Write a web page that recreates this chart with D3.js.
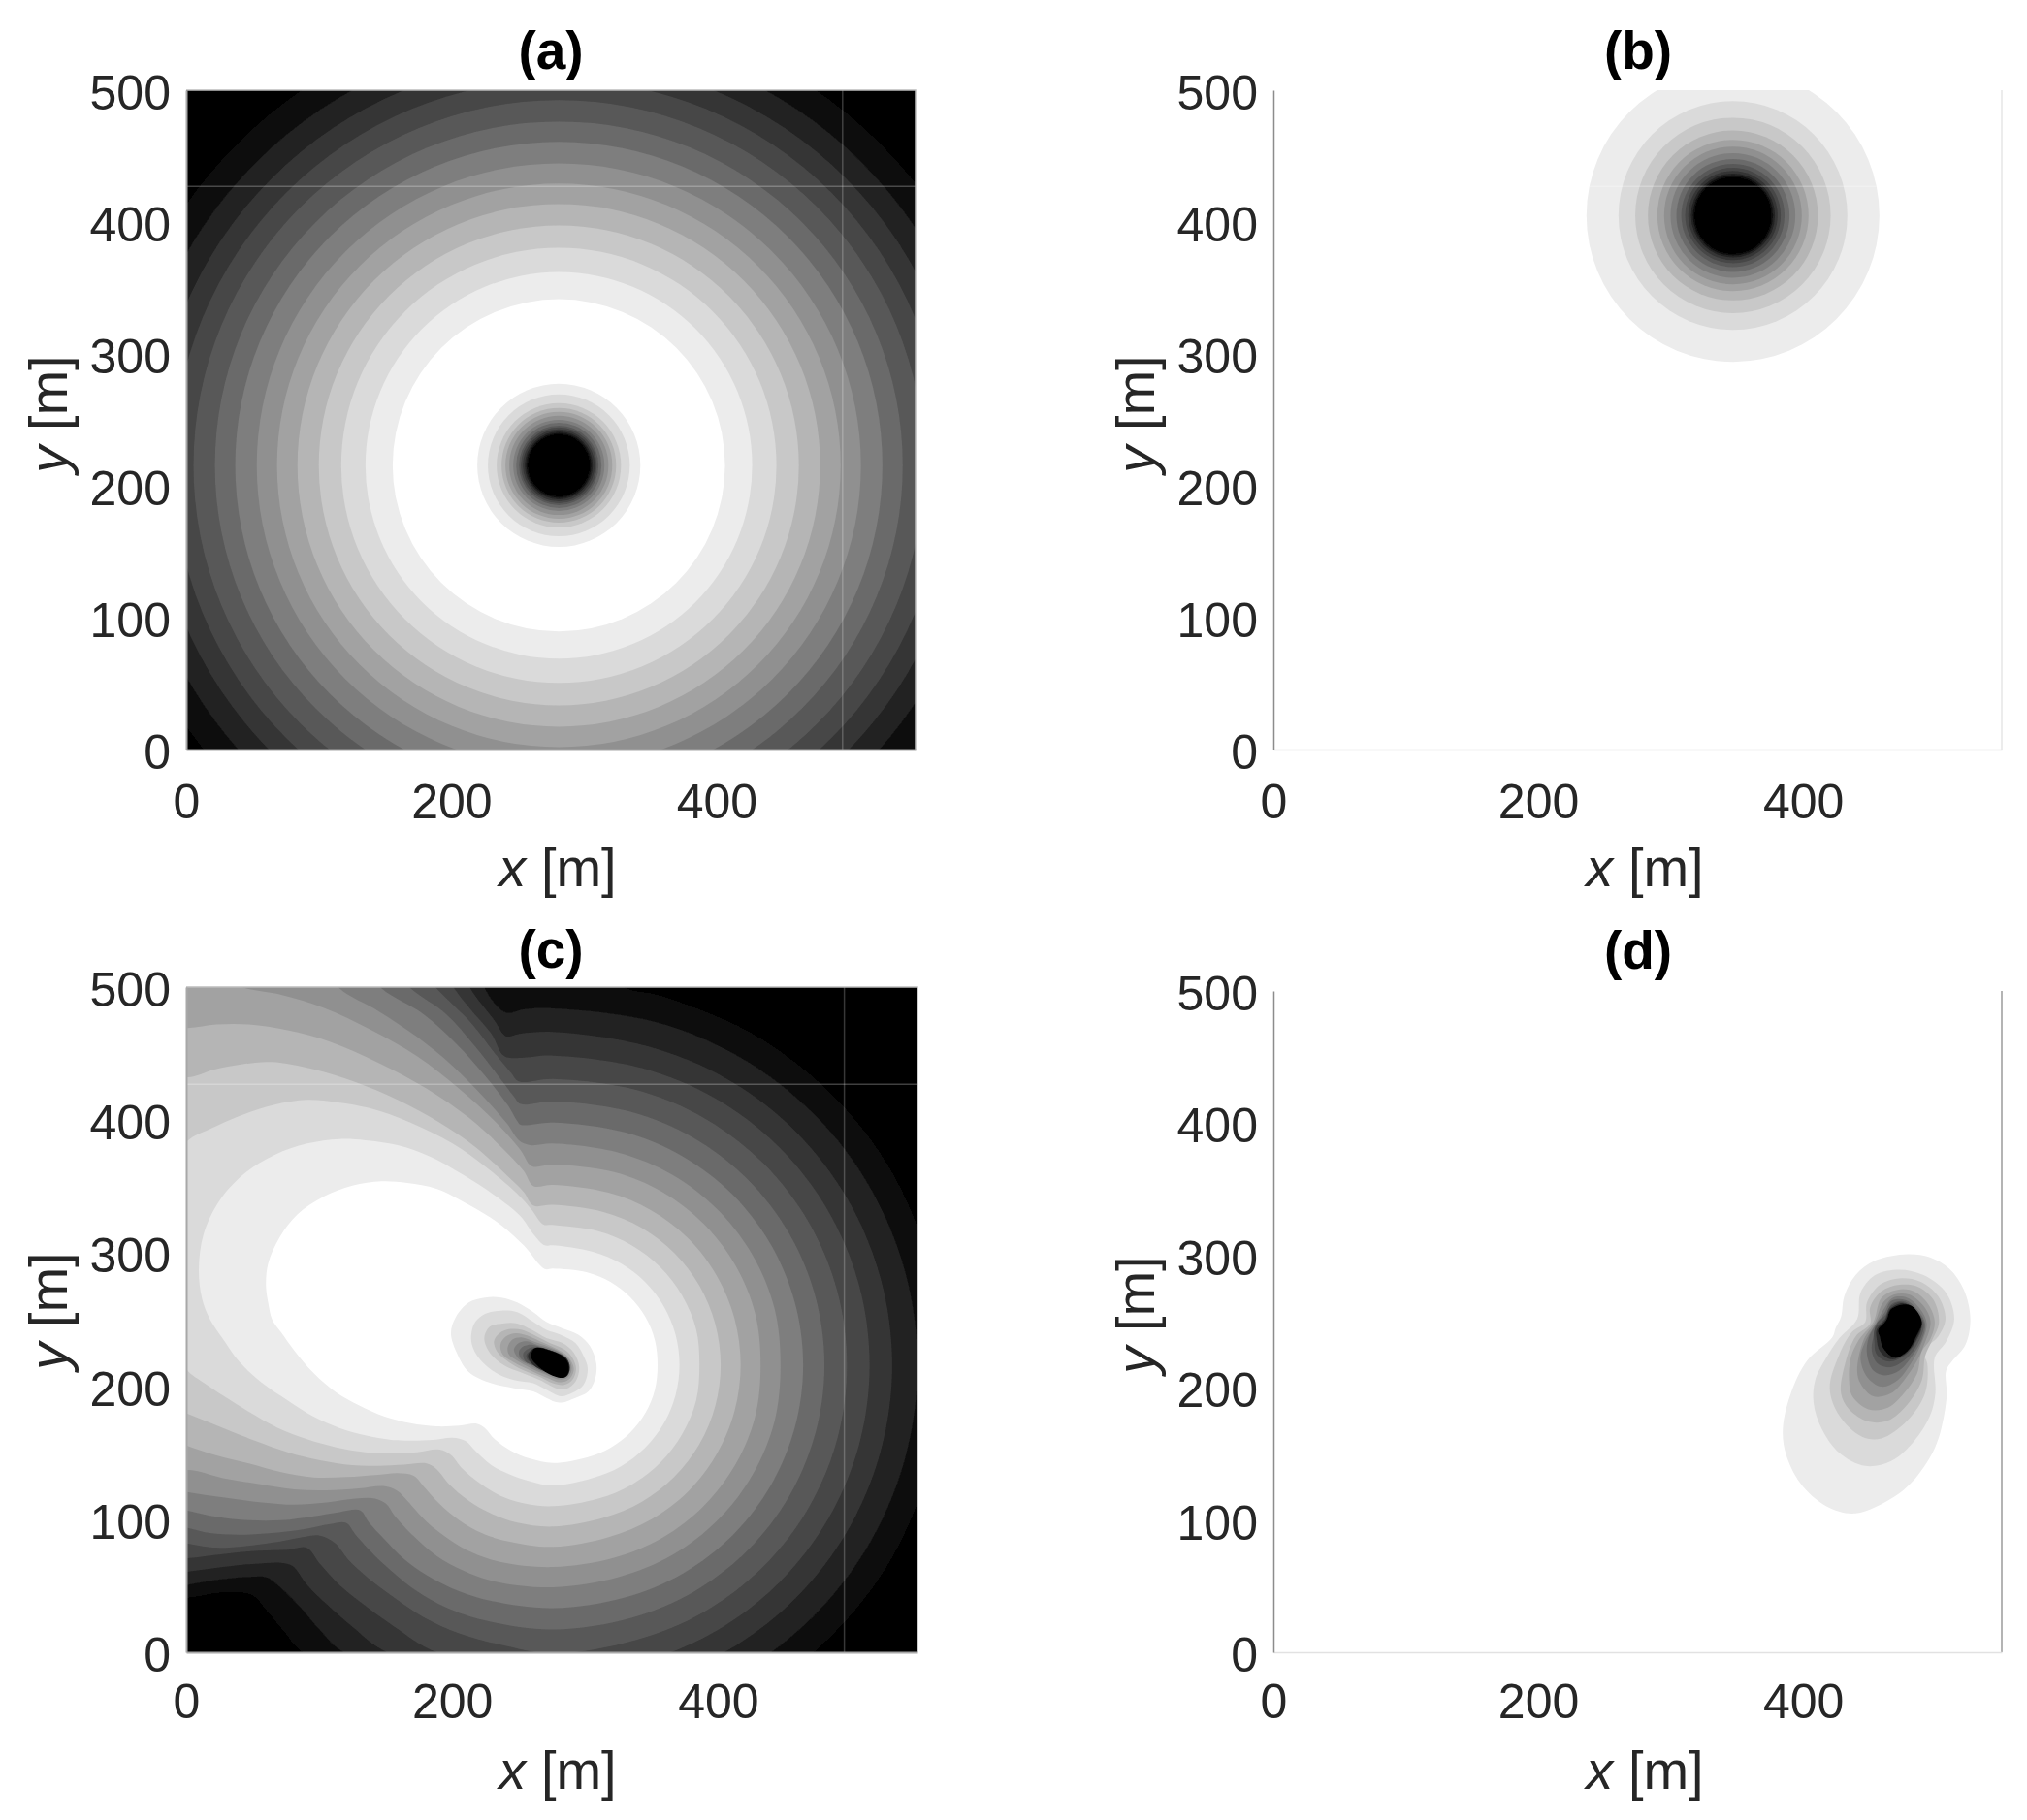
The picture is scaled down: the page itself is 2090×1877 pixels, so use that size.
<!DOCTYPE html>
<html>
<head>
<meta charset="utf-8">
<script src="https://cdn.jsdelivr.net/npm/d3@7"></script>
<style>
  html, body { margin: 0; padding: 0; background: #fff; }
  svg { display: block; font-family: "Liberation Sans", Arial, sans-serif; }
</style>
</head>
<body>
<svg id="chart"></svg>
<script>
// Gray steps of the contour fill, light to dark
const grays = ["#ffffff", "#ececec", "#dadada", "#c8c8c8", "#b5b5b5", "#a2a2a2", "#909090", "#7e7e7e",
  "#6b6b6b", "#595959", "#474747", "#353535", "#222222", "#111111", "#000000"];
const xTicks = [0, 200, 400];
const yTicks = [0, 100, 200, 300, 400, 500];

// (a) circular bands: centre and radii in metres
const aCentre = [281, 215.5];
const aRing = [125.3, 145.8, 164.1, 181, 197.1, 212.5, 227.8, 244, 259.3, 275.5, 290.8, 306.2, 323, 342.9];
const aHole = [61.5, 53.5, 46.9, 43.2, 40.3, 37.4, 34.4, 32.2, 30, 28.6, 27.1, 25.6, 24.5, 23.4];

// (b) single spot
const bCentre = [347, 405];
const bHole = [110.6, 86.4, 73.8, 64.2, 57.1, 52, 47.1, 42.7, 39, 36.1, 33.7, 31.7, 30.3, 29.1];

// (c) outer contours, white boundary first, each [x, y] in metres
const cLine0 = [[269.6,288.1],[275.7,288.4],[301.6,285.5],[319,278.4],[333.9,266.9],[345.4,252],[352.5,234.6],[354.5,216],[352.5,197.4],[345.4,180],[333.9,165.1],[319,153.6],[301.6,146.5],[276,142.3],[258.7,145.5],[244,151.6],[232,160.1],[224.6,168.6],[218.5,171.8],[205.2,170.3],[188.2,169.8],[168.7,172.2],[149.3,177.1],[129.8,185.6],[112.8,195.3],[95.8,209.9],[81.2,226.9],[71.5,240.3],[64.7,250],[61.8,262],[60,275.5],[61.7,292.5],[70.3,312],[83.6,329],[103.1,342.3],[125,350.8],[146.8,354],[166.3,352.8],[188.2,348.4],[212.5,336.3],[234.4,322.9],[253.8,305.9]];
const cLine1 = [[269.6,305.9],[275.7,305.9],[305.8,301],[327,292.2],[345.2,278.2],[359.2,260],[368,238.8],[371,216],[368,193.2],[359.2,172],[345.2,153.8],[327,139.8],[305.8,131],[276,125.3],[258.7,128.5],[244,133.4],[229.5,140.7],[217.3,151.6],[210,158.9],[200.3,161.3],[185.7,159.6],[168.7,159.1],[154.1,159.6],[134.7,163],[115.2,168.6],[95.8,177.1],[76.3,189.3],[56.9,202.6],[39.9,218.4],[27.7,235.4],[18,250],[11.9,265.8],[9.5,287.7],[13.1,314.4],[25.3,339.9],[44.7,360.6],[66.6,373.9],[90.9,382.4],[115.2,385.8],[134.7,384.9],[159,381.2],[183.3,372.7],[207.6,359.3],[231.9,343.5],[251.4,327.8],[261.1,314.4]];
const cLine2 = [[268.4,321.7],[275.7,321.2],[309.9,316.5],[335,306],[356.5,289.5],[373,268],[383.5,242.9],[386,216],[383.5,189.1],[373,164],[356.5,142.5],[335,126],[309.9,115.5],[276,109.8],[256.2,111.5],[239.2,116.4],[222.2,126.1],[207.6,138.2],[199.1,148.4],[190.6,152.3],[173.6,150.4],[154.1,149.4],[134.7,150.4],[112.8,154],[90.9,160.1],[69,168.6],[47.2,180.7],[27.7,192.9],[13.1,202.6],[0.5,212.3],[-15,240],[-15,360],[1,384.4],[18,393.4],[39.9,403.1],[66.6,411.6],[90.9,415.2],[112.8,413.5],[137.1,409.2],[168.7,398.2],[200.3,382.4],[224.6,365.4],[248.9,344.8],[259.9,332.6]];
const cLine3 = [[261.1,335.8],[275.7,336.3],[313.8,330.9],[342.5,319],[367.1,300.1],[386,275.5],[397.9,246.8],[402,216],[397.9,185.2],[386,156.5],[367.1,131.9],[342.5,113],[313.8,101.1],[276,94.5],[249,97.4],[229.5,104.2],[212.5,113.9],[197.9,126.1],[188.2,137.7],[180.9,141.9],[163.8,141.1],[144.4,140.2],[124.9,140.6],[100.6,144.3],[76.3,150.4],[52,158.9],[27.7,168.6],[0.5,179.5],[-25,190],[-25,440],[1,432.2],[20.4,437.8],[42.3,442],[64.2,443.7],[95.8,438.3],[127.4,428.6],[159,415.2],[190.6,398.2],[217.3,380],[241.6,358.1],[253.8,346]];
const cLine4 = [[261.1,350.4],[275.7,351.3],[317.7,345.4],[350,332],[377.8,310.8],[399,283],[412.4,250.7],[417,216],[412.4,181.3],[399,149],[377.8,121.2],[350,100],[317.7,86.6],[276,79.2],[241.6,83.5],[222.2,89.6],[205.2,99.3],[190.6,111.5],[178.4,124.9],[171.1,132.6],[159,134.6],[144.4,133.4],[120.1,131.7],[95.8,131.4],[71.5,135.3],[47.2,141.9],[22.8,147.9],[0.5,155.2],[-25,165],[-25,470],[1,469.2],[22.8,471.9],[47.2,471.9],[76.3,467.5],[107.9,459],[144.4,443.2],[180.9,423.7],[212.5,401.9],[236.8,380],[253.8,361.8]];
const cLine5 = [[259.9,365.4],[275.7,366.6],[321.8,360.9],[358,346],[389.1,322.1],[413,291],[427.9,254.8],[432,216],[427.9,177.2],[413,141],[389.1,109.9],[358,86],[321.8,71.1],[276,64.1],[236.8,67.8],[214.9,75],[197.9,84.8],[180.9,98.1],[166.3,113.9],[159,121.2],[149.3,124.9],[129.8,123.2],[105.5,121.7],[81.2,122.4],[56.9,126.1],[27.7,130.9],[0.5,137],[-25,130],[-25,515],[30,505],[44.7,499],[71.5,494.2],[103.1,484.5],[139.5,467.5],[173.6,448],[205.2,423.7],[231.9,399.4],[251.4,377.6]];
const cLine6 = [[250.2,384.9],[258.7,381.2],[275.7,382.4],[325.7,375.4],[365.5,359],[399.7,332.7],[426,298.5],[442.4,258.7],[447,216],[442.4,173.3],[426,133.5],[399.7,99.3],[365.5,73],[325.7,56.6],[276,48.8],[231.9,53.2],[207.6,61.7],[188.2,72.6],[171.1,87.2],[156.5,103],[150.5,111.5],[142,115.6],[127.4,115.6],[105.5,112.7],[81.2,111],[56.9,112.7],[27.7,116.4],[0.5,120.5],[-25,125],[-25,520],[100,520],[115.2,499],[144.4,482],[173.6,462.6],[200.3,440.8],[224.6,416.4],[241.6,397]];
const cLine7 = [[248.9,399.4],[251.4,396.5],[275.7,398.2],[329.8,390.8],[373.5,372.7],[411,344],[439.7,306.5],[457.8,262.8],[464,216],[457.8,169.2],[439.7,125.5],[411,88],[373.5,59.3],[329.8,41.2],[276,33.2],[229.5,38.6],[205.2,45.9],[180.9,58],[163.8,70.2],[149.3,84.8],[137.1,98.1],[131,106.6],[115.2,105.4],[95.8,102.3],[71.5,99.3],[47.2,99.3],[22.8,101.8],[0.5,106.6],[-25,112],[-25,520],[130,520],[146.8,499],[178.4,479.6],[202.7,457.8],[224.6,433.5],[241.6,411.6]];
const cLine8 = [[246.5,417.7],[251.4,412.1],[275.7,414],[334,406.3],[381.5,386.6],[422.3,355.3],[453.6,314.5],[473.3,267],[480,216],[473.3,165],[453.6,117.5],[422.3,76.7],[381.5,45.4],[334,25.7],[276,17.2],[224.6,24],[195.5,33.7],[173.6,45.9],[156.6,59.3],[142,72.6],[127.4,88.4],[120.1,97.4],[108,96.4],[88.5,92.5],[64.2,89.6],[39.9,88.4],[18,89.6],[0.5,93.7],[-25,98],[-25,520],[150,520],[168.7,499],[195.5,479.6],[217.3,455.3],[234.4,433.5]];
const cLine9 = [[244.1,435.9],[250.2,429.1],[275.7,431],[338.4,422.7],[390,401.3],[434.3,367.3],[468.3,323],[489.7,271.4],[497,216],[489.7,160.6],[468.3,109],[434.3,64.7],[390,30.7],[338.4,9.3],[276,-1],[241.6,4.6],[205.2,14.3],[178.4,26.4],[156.6,41],[137.1,55.6],[122.5,69],[111.6,82.3],[100.6,87.7],[88.5,86.7],[71.5,83.5],[44.7,79.9],[20.4,78.7],[0.5,81.8],[-25,85],[-25,520],[170,520],[188.2,499],[214.9,472.3],[231.9,450.5]];
const cLine10 = [[239.2,448],[251.4,446.8],[275.7,448.5],[342.8,439.1],[398.5,416],[446.3,379.3],[483,331.5],[506.1,275.8],[514,216],[506.1,156.2],[483,100.5],[446.3,52.7],[398.5,16],[342.8,-7.1],[283,-15],[189.4,-0.3],[156.6,19.2],[134.7,34.9],[115.2,50.7],[100.6,66.5],[90.4,78.7],[76.3,77],[54.4,76.3],[27.7,73.8],[0.5,70.7],[-25,70],[-25,520],[190,520],[201.5,499],[214.9,482],[229.5,465]];
const cLine11 = [[240.4,463.1],[251.4,465],[275.7,466.3],[347.2,455.5],[407,430.8],[458.4,391.4],[497.8,340],[522.5,280.2],[531,216],[522.5,151.8],[497.8,92],[458.4,40.6],[407,1.2],[347.2,-23.5],[283,-33],[151.7,-0.3],[125,19.2],[105.5,36.2],[90.9,50.7],[80,64.8],[71.5,67.3],[52,66.5],[27.7,64.1],[0.5,60.5],[-25,58],[-25,520],[205,520],[213.7,499],[231.9,474.8]];
const cLine12 = [[240.4,480.8],[253.8,483.3],[275.7,484],[352.1,473.9],[416.5,447.2],[471.8,404.8],[514.2,349.5],[540.9,285.1],[550,216],[540.9,146.9],[514.2,82.5],[471.8,27.2],[416.5,-15.2],[352.1,-41.9],[283,-55],[118.9,-0.3],[100.6,16.7],[86,33.7],[71.5,48.3],[60.5,56.3],[49.6,56.8],[22.8,54.4],[0.5,50.7],[-25,48],[-25,520],[222,520],[224.6,499]];
const cLine13 = [[300,525],[329,500],[357.3,493.2],[426.5,464.5],[485.9,418.9],[531.5,359.5],[559.2,290.3],[570,216],[559.2,141.7],[531.5,72.5],[485.9,13.1],[426.5,-32.5],[357.3,-61.2],[283,-70],[88.5,-0.3],[73.9,15.5],[61.7,30.1],[50.8,42.3],[39.9,45.4],[22.8,44.7],[0.5,41],[-25,40],[-25,525],[240,525]];

// (c) inner spot, light to dark
const cSpot = [
  [[199.1,239.8],[202.8,252],[212.5,262.9],[224.7,266.6],[236.8,266.6],[249,262.9],[261.1,255.6],[270.9,248.3],[283,243.5],[295.2,238.6],[303.7,230.1],[308.5,216.7],[307.3,204.6],[302.5,196.1],[292.7,191.2],[280.6,187.6],[270.9,191.2],[261.1,196.1],[246.5,198.5],[229.5,202.2],[212.5,210.7],[204,224]],
  [[214.5,239.8],[217.4,248.3],[224.7,254.4],[236.8,256.8],[249,255.6],[261.1,248.3],[270.9,242.3],[281.8,238.6],[292.7,232.5],[298.8,222.8],[302,213.1],[298.8,200.9],[290.3,194.9],[281.8,192.4],[270.9,197.3],[261.1,202.2],[246.5,204.6],[232,210.7],[219.8,221.6],[214.9,231.3]],
  [[224.2,236.2],[228.3,244.7],[238,247.1],[249,247.1],[259.9,242.3],[270.9,236.2],[283,232.5],[291.5,225.2],[295.6,214.3],[292.7,203.4],[285.4,197.8],[278.1,198.5],[266,204.6],[253.8,209.5],[239.3,215.5],[228.3,225.2]],
  [[231.5,233.8],[235.6,239.8],[244.1,243],[252.6,242.3],[263.6,237.4],[273.3,232.5],[284.2,227.7],[290.3,221.6],[293.2,213.1],[290.3,204.6],[284.2,200.9],[275.7,202.2],[266,207],[253.8,211.9],[242.9,218],[234.4,225.2]],
  [[236.3,231.3],[240.5,237.4],[247.8,239.8],[256.3,238.1],[266,233.8],[276.9,228.9],[286.6,222.8],[291.5,213.1],[287.9,205.1],[281.8,202.9],[270.9,206.5],[258.7,211.9],[246.5,218],[238,224]],
  [[241.7,228.9],[245.3,235],[251.9,236.7],[259.9,234.2],[269.6,230.8],[281.8,225.2],[288.4,219.2],[289.8,211.9],[286.7,206.5],[280.6,205.1],[269.6,209],[258.7,213.8],[249,219.2],[242.9,223.5]],
  [[246.5,227.7],[250.2,232.5],[256.3,233.8],[263.6,231.3],[273.3,228.4],[284.2,223.3],[287.9,217.2],[287.9,210.7],[284.2,207],[279.4,207],[268.4,210.7],[258.7,215.5],[250.2,220.4]],
  [[250.2,226],[253.8,230.1],[259.9,231.3],[268.4,228.9],[278.1,225.7],[285.4,221.6],[287.9,215.5],[286.7,209.5],[283,207.5],[276.9,208.2],[267.2,213.1],[257.5,217.2],[251.9,220.4]],
  [[253.4,224.5],[257.5,228.4],[263.6,229.4],[273.3,226.5],[284.2,222.1],[287.9,216.7],[286.7,209.9],[281.8,207.5],[273.3,209.9],[263.6,214.8],[255.1,218.7]],
  [[255.8,223.5],[259.4,226.9],[264.8,228.2],[273.8,225.7],[285,220.9],[287.4,215.5],[286.2,209.9],[281.8,208],[272.1,211.1],[262.3,216.3],[256.8,219.7]],
  [[257,222.5],[260.5,228],[266,229],[274,226.8],[285.8,221.2],[288.6,214],[286.5,207.8],[281.5,206.8],[271.3,210.5],[261,216]],
  [[259.5,221.5],[262,228.5],[272.5,227.2],[285.5,220.5],[288,212.5],[285,206.8],[280,206.5],[270,210.8]]
];

// (d) twin spot, light to dark
const dSpot = [
  [[478.7,301],[495.8,298.6],[510.4,290],[521.4,274.1],[526.3,252.1],[522.6,232.6],[512.8,220.4],[508,213],[508.4,193.5],[504.3,169],[499.4,154.4],[490.9,139.7],[481.1,127.5],[468.9,117.7],[439.6,105],[417.6,110.4],[398.1,127.5],[387.1,149.5],[384.7,169],[390.8,195.9],[403,220.4],[422,238],[424.5,245],[428.6,253.4],[431.1,269.3],[439.6,285.1],[454.3,296.1]],
  [[472.6,289.3],[490.9,285.1],[508,271.7],[514.1,252.1],[508,235],[499.4,222.8],[499.9,195.9],[495.8,178.8],[483.5,159.3],[466.5,144.6],[446.9,140.9],[427.4,150.7],[414,169],[407.9,188.6],[409.1,205.7],[417.6,222.8],[427.4,237.5],[440.8,252.1],[443.3,271.7],[454.3,285.1]],
  [[472.6,282.7],[488.4,280.3],[501.9,269.3],[507.5,252.1],[501.9,238.7],[490.9,227.7],[493.8,217.9],[492.1,195.9],[478.7,175.2],[459.1,161.7],[444.5,162.9],[427.4,178.8],[420.1,199.6],[427.4,225.3],[437.2,242.4],[446.9,249.7],[448.2,264.4],[457.9,277.8]],
  [[472.6,277.8],[486,276.6],[498.2,266.8],[502.6,249.7],[497,235],[492.1,224],[489.6,205.7],[478.7,187.4],[464,175.2],[449.4,174.4],[434.7,183.7],[428.6,195.9],[432.3,220.4],[439.6,238.7],[450.6,248.5],[450.6,260.7],[459.1,272.9]],
  [[471.3,274.1],[483.5,272.9],[494.5,263.1],[499.4,249.7],[495.8,236.3],[489.6,227.7],[486,210.6],[476.2,195.9],[464,184.9],[449.4,183.7],[437.2,193.5],[434.7,205.7],[436,222.8],[442.1,236.3],[453,249.7],[459.1,268]],
  [[468.9,270.5],[479.9,270.5],[490.9,261.9],[496.2,249.7],[490.9,231.4],[486,220.4],[476.2,205.7],[466.5,195.9],[453,193.5],[443.3,203.3],[440.8,213],[445.7,236.3],[454.3,249.7],[460.4,264.4]],
  [[467.7,268],[478.7,268],[488.4,259.5],[493.3,248.5],[488.4,231.4],[481.1,217.9],[471.3,205.7],[459.1,200.8],[448.2,208.2],[443.3,222.8],[446.9,235],[455.5,249.7],[461.6,260.7]],
  [[466.5,265.6],[477.4,266.3],[486,259.5],[492.1,248.5],[489.6,236.3],[482.3,224],[472.6,213],[461.6,209.4],[453,213],[448.2,225.3],[449.4,237.5],[455.5,248.5],[461.6,257]],
  [[466.5,263.1],[475,265.6],[483.5,260.7],[490.9,249.7],[490.4,242.4],[484.8,230.2],[476.2,220.4],[466.5,215.5],[456.7,217.9],[451.8,227.7],[453,238.7],[455.5,248.5],[462.8,255.8]],
  [[465.2,260.7],[473.8,264.9],[483.5,259.5],[489.6,247.3],[484.8,233.8],[476.2,224],[464,219.9],[455.5,225.3],[453.8,235],[454.3,244.8],[461.6,252.1]],
  [[466,260],[475,264],[483.5,260],[489.6,248.5],[485.5,236.5],[477.5,226],[466.5,221.5],[458,227.5],[455.5,237],[455.5,244],[462,251.5]],
  [[466.5,259.5],[477.4,263.1],[483.5,260.7],[489.6,249.7],[486,239.9],[478.7,227.7],[468.9,222.8],[460.4,230.2],[457.9,238.7],[456.7,243.6],[462.8,250.9]]
];
const spotGrays = ["#ececec", "#dadada", "#c8c8c8", "#b5b5b5", "#a2a2a2", "#909090", "#7e7e7e", "#6b6b6b", "#595959", "#474747", "#2c2c2c", "#000000"];

// Thin seams left in the picture, in metres
const seamY = 427;
const seamX = 495;

// Panel frames in page pixels
const panels = [
  {id: "a", left: 192, right: 944, top: 93, bottom: 773, titleY: 71, tickPad: 35, box: true},
  {id: "b", left: 1313, right: 2064, top: 93, bottom: 773, titleY: 71, tickPad: 35, box: false},
  {id: "c", left: 192, right: 946, top: 1018, bottom: 1704, titleY: 998, tickPad: 32, box: true},
  {id: "d", left: 1313, right: 2064, top: 1022, bottom: 1704, titleY: 999, tickPad: 32, box: false}
];

const svg = d3.select("#chart").attr("width", 2090).attr("height", 1877);

svg.append("defs").append("filter").attr("id", "soft")
  .attr("x", "-5%").attr("y", "-5%").attr("width", "110%").attr("height", "110%")
  .append("feGaussianBlur").attr("stdDeviation", 0.7);

panels.forEach(p => {
  const x = d3.scaleLinear().domain([0, 550]).range([p.left, p.right]);
  const y = d3.scaleLinear().domain([0, 500]).range([p.bottom, p.top]);
  const w = p.right - p.left;
  const h = p.bottom - p.top;
  const sx = x(1) - x(0);

  svg.select("defs").append("clipPath").attr("id", "clip-" + p.id)
    .append("rect").attr("x", p.left).attr("y", p.top).attr("width", w).attr("height", h);

  const g = svg.append("g").attr("clip-path", `url(#clip-${p.id})`);
  const marks = g.append("g").attr("filter", "url(#soft)");
  const outline = d3.line().x(d => x(d[0])).y(d => y(d[1])).curve(d3.curveCatmullRomClosed.alpha(0.5));

  const rings = (centre, radii, fills) => {
    marks.selectAll(null).data(radii).join("circle")
      .attr("cx", x(centre[0])).attr("cy", y(centre[1]))
      .attr("r", d => d * sx)
      .attr("fill", (d, i) => fills[i]);
  };
  const shapes = (lines, fills) => {
    marks.selectAll(null).data(lines).join("path")
      .attr("d", outline)
      .attr("fill", (d, i) => fills[i]);
  };

  if (p.id === "a") {
    marks.append("rect").attr("x", p.left - 5).attr("y", p.top - 5).attr("width", w + 10).attr("height", h + 10).attr("fill", "#000");
    rings(aCentre, aRing.slice().reverse(), grays.slice(0, 14).reverse());
    rings(aCentre, aHole, grays.slice(1));
  }
  if (p.id === "b") {
    rings(bCentre, bHole, grays.slice(1));
  }
  if (p.id === "c") {
    marks.append("rect").attr("x", p.left - 5).attr("y", p.top - 5).attr("width", w + 10).attr("height", h + 10).attr("fill", "#000");
    const cLines = [cLine0, cLine1, cLine2, cLine3, cLine4, cLine5, cLine6, cLine7, cLine8, cLine9, cLine10, cLine11, cLine12, cLine13];
    shapes(cLines.slice().reverse(), grays.slice(0, 14).reverse());
    shapes(cSpot, spotGrays);
  }
  if (p.id === "d") {
    shapes(dSpot, spotGrays);
  }

  // seams only show on the filled panels and on the (b) spot
  if (p.box || p.id === "b") {
    g.append("line").attr("x1", p.left).attr("x2", p.right).attr("y1", y(seamY)).attr("y2", y(seamY))
      .attr("stroke", "#fff").attr("stroke-opacity", 0.25).attr("stroke-width", 1.5);
  }
  if (p.box) {
    g.append("line").attr("y1", p.top).attr("y2", p.bottom).attr("x1", x(seamX)).attr("x2", x(seamX))
      .attr("stroke", "#fff").attr("stroke-opacity", 0.22).attr("stroke-width", 1.5);
    svg.append("path").attr("d", `M${p.left},${p.top}H${p.right}V${p.bottom}`)
      .attr("fill", "none").attr("stroke", "#bdbdbd").attr("stroke-width", 1.5);
  } else {
    svg.append("line").attr("x1", p.right).attr("x2", p.right).attr("y1", p.top).attr("y2", p.bottom)
      .attr("stroke", p.id === "d" ? "#b4b4b4" : "#e6e6e6").attr("stroke-width", p.id === "d" ? 2 : 1.5);
  }

  const xAxis = svg.append("g").attr("transform", `translate(0,${p.bottom})`)
    .call(d3.axisBottom(x).tickValues(xTicks).tickSize(0).tickPadding(p.tickPad));
  const yAxis = svg.append("g").attr("transform", `translate(${p.left},0)`)
    .call(d3.axisLeft(y).tickValues(yTicks).tickSize(0).tickPadding(16));
  yAxis.selectAll("text").attr("dy", "0.39em");
  [xAxis, yAxis].forEach(a => {
    a.attr("font-family", null).attr("font-size", 50);
    a.selectAll("text").attr("fill", "#262626");
  });
  xAxis.select(".domain").attr("stroke", p.box ? "#a8a8a8" : "#e2e2e2").attr("stroke-width", p.box ? 2 : 1.5);
  yAxis.select(".domain").attr("stroke", p.box ? "#a8a8a8" : "#8c8c8c").attr("stroke-width", p.box ? 2 : 1.5);

  svg.append("text").attr("x", p.left + 376).attr("y", p.titleY)
    .attr("text-anchor", "middle").attr("font-size", 55).attr("font-weight", "bold").attr("fill", "#000")
    .text(`(${p.id})`);

  const xLabel = svg.append("text").attr("x", x(0) + 383).attr("y", p.bottom + 140.5)
    .attr("text-anchor", "middle").attr("font-size", 56).attr("fill", "#262626");
  xLabel.append("tspan").attr("font-style", "italic").text("x");
  xLabel.append("tspan").text(" [m]");

  const yLabel = svg.append("text")
    .attr("transform", `translate(${p.left - 123},${p.top + 334}) rotate(-90)`)
    .attr("text-anchor", "middle").attr("font-size", 56).attr("fill", "#262626");
  yLabel.append("tspan").attr("font-style", "italic").text("y");
  yLabel.append("tspan").text(" [m]");
});
</script>
</body>
</html>
